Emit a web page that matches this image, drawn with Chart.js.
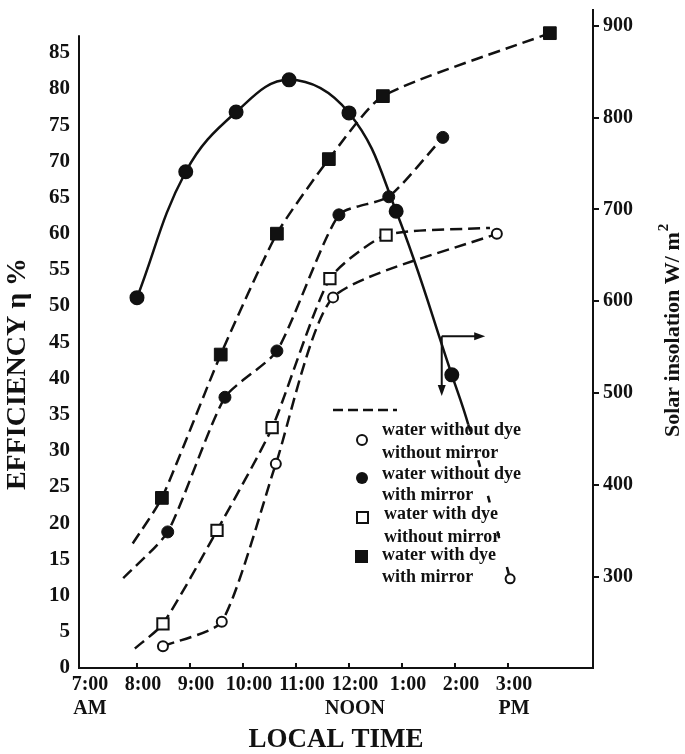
<!DOCTYPE html>
<html>
<head>
<meta charset="utf-8">
<script src="https://cdn.jsdelivr.net/npm/chart.js@4.4.1/dist/chart.umd.min.js"></script>
<style>
  html, body { margin: 0; padding: 0; background: #fff; }
</style>
</head>
<body>
<canvas id="chart" width="685" height="754"></canvas>
<script>
// x axis: hour of the day (24h clock) and the printed labels
const hourTicks = [7, 8, 9, 10, 11, 12, 13, 14, 15];
const hourLabels = [['7:00', 'AM'], '8:00', '9:00', '10:00', '11:00', ['12:00', 'NOON'], '1:00', '2:00', ['3:00', 'PM']];
const effTicks = [0, 5, 10, 15, 20, 25, 30, 35, 40, 45, 50, 55, 60, 65, 70, 75, 80, 85];
const solarTicks = [300, 400, 500, 600, 700, 800, 900];

// solar insolation W/m2 (right axis)
const solarTime = [8.00, 8.92, 9.87, 10.87, 12.00, 12.89, 13.94, 14.25, 15.04];
const solarValue = [604, 741, 806, 841, 805, 698, 520, 466, 298];

// efficiency %, water without dye, without mirror
const noDyeNoMirTime = [8.49, 9.60, 10.62, 11.70, 14.79];
const noDyeNoMirEff = [3.0, 6.4, 28.2, 51.2, 60.0];

// water without dye, with mirror (first value is the line start, no marker)
const noDyeMirTime = [7.74, 8.58, 9.66, 10.64, 11.81, 12.75, 13.77];
const noDyeMirEff = [12.4, 18.8, 37.4, 43.8, 62.6, 65.1, 73.3];

// water with dye, without mirror (first and last are line ends, no marker)
const dyeNoMirTime = [7.96, 8.49, 9.51, 10.55, 11.64, 12.70, 14.66];
const dyeNoMirEff = [2.7, 6.1, 19.0, 33.2, 53.8, 59.8, 60.8];

// water with dye, with mirror (first value is the line start, no marker)
const dyeMirTime = [7.92, 8.47, 9.58, 10.64, 11.62, 12.64, 15.79];
const dyeMirEff = [17.2, 23.5, 43.3, 60.0, 70.3, 79.0, 87.7];

// the two arrows that point to the axes (start hour / insolation, ends)
const arrowStart = { x: 13.75, y: 562 };
const arrowRightEnd = 14.57;
const arrowDownEnd = 497;

const INK = '#111';
const SERIF = '"Liberation Serif", "Times New Roman", serif';

function pts(xs, ys) {
  return xs.map((x, i) => ({ x: x, y: ys[i] }));
}

const dashed = {
  borderColor: INK,
  borderWidth: 2.5,
  borderDash: [12, 6],
  fill: false,
  tension: 0.2,
  pointBorderColor: INK,
  yAxisID: 'y'
};

// legend, arrows, inner x ticks, left axis line and the vertical titles
const decor = {
  id: 'decor',
  afterDatasetsDraw(chart) {
    const ctx = chart.ctx;
    const xs = chart.scales.x, ys = chart.scales.y, y2 = chart.scales.y2;
    ctx.save();
    ctx.strokeStyle = INK;
    ctx.fillStyle = INK;

    // arrows
    const ax = xs.getPixelForValue(arrowStart.x), ay = y2.getPixelForValue(arrowStart.y);
    const rx = xs.getPixelForValue(arrowRightEnd), dy = y2.getPixelForValue(arrowDownEnd);
    ctx.lineWidth = 2;
    ctx.beginPath();
    ctx.moveTo(ax, ay); ctx.lineTo(rx - 8, ay);
    ctx.moveTo(ax, ay); ctx.lineTo(ax, dy - 8);
    ctx.stroke();
    ctx.beginPath();
    ctx.moveTo(rx, ay); ctx.lineTo(rx - 11, ay - 4); ctx.lineTo(rx - 11, ay + 4);
    ctx.closePath(); ctx.fill();
    ctx.beginPath();
    ctx.moveTo(ax, dy); ctx.lineTo(ax - 4, dy - 11); ctx.lineTo(ax + 4, dy - 11);
    ctx.closePath(); ctx.fill();

    // legend
    ctx.lineWidth = 2.5;
    ctx.setLineDash([10, 5]);
    ctx.beginPath();
    ctx.moveTo(333, 410); ctx.lineTo(397, 410);
    ctx.stroke();
    ctx.setLineDash([]);
    ctx.lineWidth = 2;
    ctx.beginPath(); ctx.arc(362, 440, 5, 0, Math.PI * 2);
    ctx.fillStyle = '#fff'; ctx.fill(); ctx.stroke();
    ctx.fillStyle = INK;
    ctx.beginPath(); ctx.arc(362, 478, 6, 0, Math.PI * 2); ctx.fill();
    ctx.strokeRect(357, 512, 11, 11);
    ctx.fillRect(355, 550, 13, 13);

    ctx.font = 'bold 18px ' + SERIF;
    ctx.textAlign = 'left';
    ctx.textBaseline = 'middle';
    const lines = [
      ['water without dye', 382, 430], ['without mirror', 382, 453],
      ['water without dye', 382, 474], ['with mirror', 382, 495],
      ['water with dye', 384, 514], ['without mirror', 384, 537],
      ['water with dye', 382, 555], ['with mirror', 382, 577]
    ];
    lines.forEach(l => ctx.fillText(l[0], l[1], l[2]));

    // inner tick marks on the time axis
    ctx.lineWidth = 2;
    ctx.beginPath();
    hourTicks.slice(1).forEach(h => {
      const px = xs.getPixelForValue(h);
      ctx.moveTo(px, xs.top); ctx.lineTo(px, xs.top - 5);
    });
    ctx.stroke();

    // left axis line stops short of the top
    ctx.beginPath();
    ctx.moveTo(ys.left + ys.width, ys.getPixelForValue(87.4));
    ctx.lineTo(ys.left + ys.width, ys.bottom + 1);
    ctx.stroke();

    // vertical titles
    ctx.save();
    ctx.translate(25, 374);
    ctx.rotate(-Math.PI / 2);
    ctx.font = 'bold 28px ' + SERIF;
    ctx.textAlign = 'center';
    ctx.textBaseline = 'alphabetic';
    ctx.fillText('EFFICIENCY η %', 0, 0);
    ctx.restore();

    ctx.save();
    ctx.translate(679, 437);
    ctx.rotate(-Math.PI / 2);
    ctx.font = 'bold 22px ' + SERIF;
    ctx.textAlign = 'left';
    ctx.textBaseline = 'alphabetic';
    const t = 'Solar insolation W/ m';
    ctx.fillText(t, 0, 0);
    const w = ctx.measureText(t).width;
    ctx.font = 'bold 15px ' + SERIF;
    ctx.fillText('2', w + 1, -11);
    ctx.restore();

    ctx.restore();
  }
};

function noPad(s) {
  s.paddingTop = 0; s.paddingBottom = 0; s.paddingLeft = 0; s.paddingRight = 0;
}

new Chart(document.getElementById('chart'), {
  type: 'line',
  data: {
    datasets: [
      {
        ...dashed,
        label: 'water without dye without mirror',
        data: pts(noDyeNoMirTime, noDyeNoMirEff),
        pointStyle: 'circle',
        pointRadius: 5,
        pointBorderWidth: 2,
        pointBackgroundColor: '#fff'
      },
      {
        ...dashed,
        label: 'water without dye with mirror',
        data: pts(noDyeMirTime, noDyeMirEff),
        pointStyle: 'circle',
        pointRadius: c => (c.dataIndex === 0 ? 0 : 6),
        pointBorderWidth: 1,
        pointBackgroundColor: INK
      },
      {
        ...dashed,
        label: 'water with dye without mirror',
        data: pts(dyeNoMirTime, dyeNoMirEff),
        pointStyle: 'rect',
        pointRadius: c => (c.dataIndex === 0 || c.dataIndex === dyeNoMirTime.length - 1 ? 0 : 8),
        pointBorderWidth: 2,
        pointBackgroundColor: '#fff'
      },
      {
        ...dashed,
        label: 'water with dye with mirror',
        data: pts(dyeMirTime, dyeMirEff),
        pointStyle: 'rect',
        pointRadius: c => (c.dataIndex === 0 ? 0 : 9),
        pointBorderWidth: 1,
        pointBackgroundColor: INK
      },
      {
        label: 'Solar insolation',
        data: pts(solarTime, solarValue),
        yAxisID: 'y2',
        borderColor: INK,
        borderWidth: 2.5,
        fill: false,
        tension: 0.4,
        pointStyle: 'circle',
        pointBorderColor: INK,
        pointBorderWidth: 2,
        pointRadius: c => (c.dataIndex === 7 ? 0 : c.dataIndex === 8 ? 4.5 : 6.5),
        pointBackgroundColor: c => (c.dataIndex === 8 ? '#fff' : INK),
        segment: {
          borderDash: c => (c.p1DataIndex === 8 ? [7, 30] : undefined)
        }
      }
    ]
  },
  options: {
    responsive: false,
    animation: false,
    devicePixelRatio: 1,
    layout: { padding: { top: 2, left: 0, right: 0, bottom: 0 } },
    plugins: {
      legend: { display: false },
      tooltip: { enabled: false }
    },
    scales: {
      x: {
        type: 'linear',
        position: 'bottom',
        min: 6.906,
        max: 16.604,
        afterBuildTicks: s => { s.ticks = hourTicks.map(v => ({ value: v })); },
        afterFit: s => { s.height = 86; noPad(s); },
        ticks: {
          callback: (v, i) => hourLabels[i],
          font: { family: SERIF, size: 20, weight: 'bold' },
          color: INK,
          padding: 5,
          labelOffset: 6,
          maxRotation: 0,
          autoSkip: false
        },
        grid: { display: false, drawTicks: false },
        border: { display: true, color: INK, width: 2 },
        title: {
          display: true,
          text: 'LOCAL TIME',
          color: INK,
          font: { family: SERIF, size: 27, weight: 'bold', lineHeight: 1 },
          padding: 0
        }
      },
      y: {
        type: 'linear',
        position: 'left',
        min: 0,
        max: 90.9,
        afterBuildTicks: s => { s.ticks = effTicks.map(v => ({ value: v })); },
        afterFit: s => { s.width = 79; noPad(s); },
        ticks: {
          font: { family: SERIF, size: 21, weight: 'bold' },
          color: INK,
          padding: 9
        },
        grid: { display: false, drawTicks: false },
        border: { display: false }
      },
      y2: {
        type: 'linear',
        position: 'right',
        min: 201,
        max: 917,
        afterBuildTicks: s => { s.ticks = solarTicks.map(v => ({ value: v })); },
        afterFit: s => { s.width = 92; noPad(s); },
        ticks: {
          font: { family: SERIF, size: 20, weight: 'bold' },
          color: INK,
          padding: 4
        },
        grid: { display: true, drawOnChartArea: false, drawTicks: true, tickLength: 6, color: INK, lineWidth: 2 },
        border: { display: true, color: INK, width: 2 }
      }
    }
  },
  plugins: [decor]
});
</script>
</body>
</html>
